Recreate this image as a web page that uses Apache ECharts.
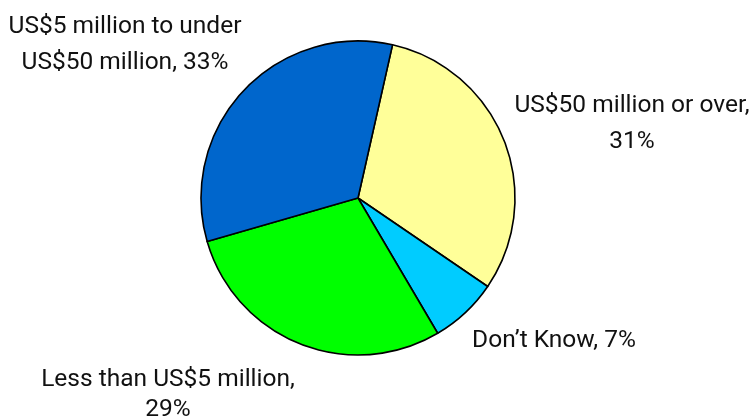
<!DOCTYPE html>
<html>
<head>
<meta charset="utf-8">
<script src="https://cdn.jsdelivr.net/npm/echarts@6/dist/echarts.min.js"></script>
<style>
  html, body { margin: 0; padding: 0; background: #fff; }
  #chart { width: 754px; height: 420px; }
</style>
</head>
<body>
<div id="chart"></div>
<script>
// Survey shares by budget band, in clockwise drawing order
const categories = [
  'US$50 million or over',
  'Don\u2019t Know',
  'Less than US$5 million',
  'US$5 million to under US$50 million'
];
const shares = [31, 7, 29, 33];

// label text per slice (line breaks as shown)
const labelTexts = [
  'US$50 million or over,\n31%',
  'Don\u2019t Know, 7%',
  'Less than US$5 million,\n29%',
  'US$5 million to under\nUS$50 million, 33%'
];

const sliceColors = ['#FFFF99', '#00CCFF', '#00FF00', '#0066CC'];
// label centre points and line spacing for each slice
const labelSpots = [
  { x: 632, y: 124, lh: 36 },
  { x: 554, y: 341, lh: 36 },
  { x: 168, y: 395, lh: 30 },
  { x: 125, y: 45, lh: 36 }
];

const chart = echarts.init(document.getElementById('chart'), null, { renderer: 'canvas' });

const data = categories.map((name, i) => ({
  name: name,
  value: shares[i],
  itemStyle: { color: sliceColors[i] },
  label: { formatter: labelTexts[i], lineHeight: labelSpots[i].lh }
}));

chart.setOption({
  animation: false,
  backgroundColor: '#ffffff',
  series: [{
    type: 'pie',
    center: [358, 198],
    radius: 157,
    startAngle: 77.3,
    clockwise: true,
    avoidLabelOverlap: false,
    itemStyle: { borderColor: '#000000', borderWidth: 1.6 },
    label: {
      show: true,
      position: 'outside',
      color: '#111111',
      fontFamily: 'Roboto',
      fontSize: 24.5,
      align: 'center'
    },
    labelLine: { show: false },
    labelLayout: function (params) {
      const s = labelSpots[params.dataIndex];
      return { x: s.x, y: s.y, align: 'center', verticalAlign: 'middle' };
    },
    emphasis: { disabled: true },
    data: data
  }]
});
</script>
</body>
</html>
